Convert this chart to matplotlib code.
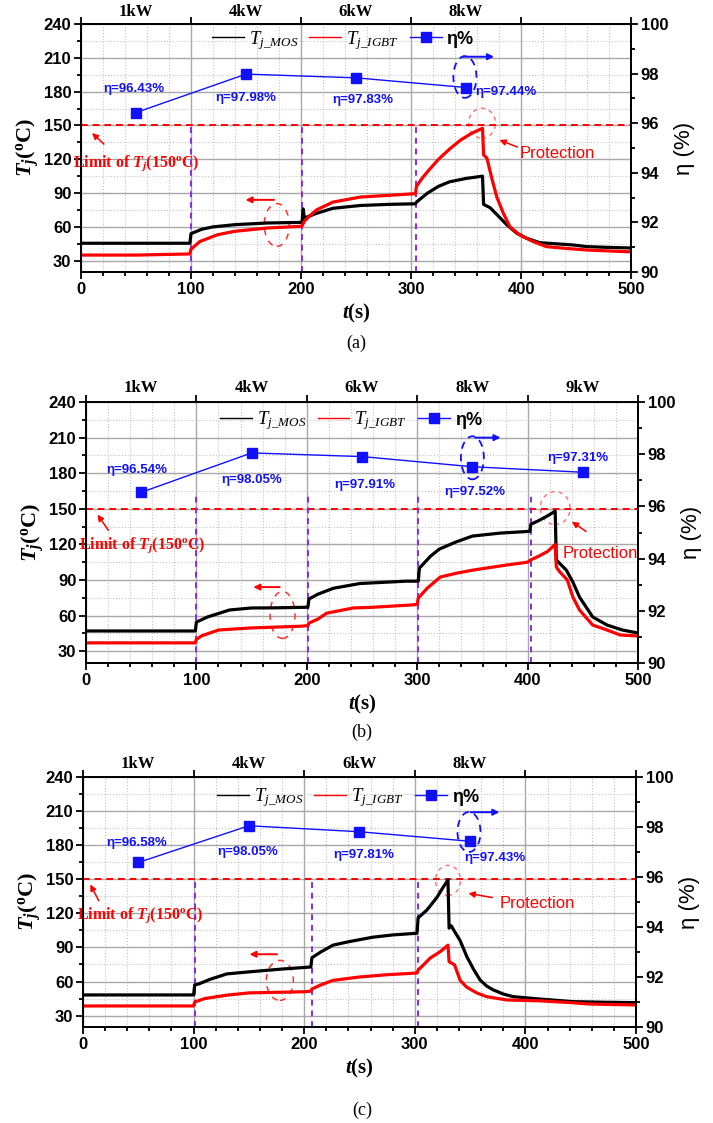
import matplotlib
matplotlib.use('Agg')
import matplotlib.pyplot as plt
from matplotlib.patches import Ellipse
from matplotlib.lines import Line2D
from matplotlib.ticker import MultipleLocator

plt.rcParams['font.family'] = ['Liberation Sans Narrow', 'Liberation Sans', 'DejaVu Sans']
plt.rcParams['font.weight'] = 'bold'
plt.rcParams['mathtext.fontset'] = 'custom'
plt.rcParams['mathtext.rm'] = 'Liberation Serif:bold'
plt.rcParams['mathtext.it'] = 'Liberation Serif:italic:bold'
plt.rcParams['mathtext.bf'] = 'Liberation Serif:bold'
plt.rcParams['mathtext.sf'] = 'Liberation Serif:style=italic:weight=normal'

# load steps (segment centres) and measured efficiency
power_t = [50, 150, 250, 350, 450]
a_power = ['1kW', '4kW', '6kW', '8kW']
b_power = ['1kW', '4kW', '6kW', '8kW', '9kW']
c_power = ['1kW', '4kW', '6kW', '8kW']
a_eff = [96.43, 97.98, 97.83, 97.44]
b_eff = [96.54, 98.05, 97.91, 97.52, 97.31]
c_eff = [96.58, 98.05, 97.81, 97.43]
a_steps = [100, 201, 304.5]
b_steps = [99.6, 201, 300.7, 403]
c_steps = [101, 207, 303]

# (a) junction temperatures
a_t_mos = [0, 99, 100, 105, 110, 120, 140, 170, 200, 201, 202, 203, 206, 214, 229, 254, 280, 304,
           305, 315, 325, 335, 350, 365, 366, 372, 381, 387, 396, 405, 417, 447, 460, 480, 500]
a_mos = [45.5, 45.5, 54, 56, 58, 60, 62, 63.5, 64, 64, 76, 68, 69, 72, 76.5, 79, 80, 80.5,
         82, 90, 96, 100, 103, 105, 80, 77, 68, 62, 54.5, 50, 46, 44, 42.5, 41.8, 41.3]
a_t_igbt = [0, 50, 99, 100, 101, 108, 124, 139, 169, 200, 201, 203, 207, 214, 229, 254, 280, 304,
            305, 310, 315, 325, 335, 345, 355, 365, 366, 369, 374, 378, 384, 390, 399, 411, 423,
            440, 460, 496, 500]
a_igbt = [35, 35, 36, 40.5, 41, 47, 53, 56, 59, 60.5, 61, 65, 69, 75, 82, 86.5, 88, 89.5,
          96, 103, 109, 120, 129, 137, 143, 147.5, 124, 121, 101, 86.5, 72, 60, 52.8, 47, 42.5,
          41, 39.5, 38, 38]

# (b) junction temperatures
b_t_mos = [0, 99, 100, 110, 130, 150, 170, 200, 201, 202, 210, 224, 248, 290, 300, 301, 302,
           306, 312, 320, 335, 350, 375, 402, 403, 410, 418, 425, 426, 429, 435, 441, 447, 459,
           472, 486, 500]
b_mos = [47, 47, 54.5, 58.8, 64.7, 66.4, 66.5, 67, 67, 74, 78, 83, 87, 89, 89, 89, 100,
         104, 110, 116, 122, 127, 129.5, 131, 137, 140, 144, 148, 107, 104, 98.4, 88.3, 75.6, 58.8,
         52, 47.8, 45.3]
b_t_igbt = [0, 99, 100, 105, 120, 148, 194, 201, 202, 210, 218, 242, 260, 296, 300, 301, 309,
            321, 336, 351, 381, 400, 403, 410, 418, 425, 426, 429, 436, 441, 447, 459, 472, 484,
            500]
b_igbt = [37, 37, 40, 43, 47.8, 49.5, 51, 51.5, 53.7, 57, 62, 66.4, 67, 69, 69.5, 74.8, 83,
          92.5, 95.8, 98.4, 102.6, 105, 107, 110, 114, 120, 101, 97, 90, 75.6, 64.7, 52, 47.8,
          43.6, 42.8]

# (c) junction temperatures
c_t_mos = [0, 100, 101, 105, 115, 130, 150, 180, 206, 207, 215, 226, 240, 262, 280, 302, 303,
           311, 320, 325, 330, 331, 333, 336, 341, 347, 353, 359, 365, 371, 380, 389, 413, 443,
           470, 500]
c_mos = [48.2, 48.2, 57, 58, 62, 66.7, 68.5, 71, 72.8, 81, 86, 92, 95, 99, 101, 102.5, 116,
         123, 134, 142, 149.5, 107, 109, 104, 96, 82, 71, 61.4, 56, 52.6, 49, 46.7, 44.6, 42.3,
         41.8, 41.4]
c_t_igbt = [0, 100, 101, 110, 130, 150, 200, 206, 207, 215, 226, 250, 275, 302, 303, 314, 323,
            330, 331, 336, 341, 347, 356, 365, 383, 413, 440, 458, 500]
c_igbt = [38.5, 38.5, 42, 45, 48, 50, 51, 51.5, 53.5, 57, 61, 64, 66, 67.5, 70, 80.7, 86.3,
          92, 77.5, 74.6, 61, 55, 50, 46.7, 43.8, 43, 41.5, 40.2, 39.4]

BLUE = '#1010ff'
SERIF = 'Liberation Serif'


def draw(fig, rect, t_mos, mos, t_igbt, igbt, powers, eff, steps, lay):
    ax = fig.add_axes(rect)
    ax.set_xlim(0, 500)
    ax.set_ylim(20, 240)
    ax.xaxis.set_major_locator(MultipleLocator(100))
    ax.xaxis.set_minor_locator(MultipleLocator(20))
    ax.yaxis.set_major_locator(MultipleLocator(30))
    ax.yaxis.set_minor_locator(MultipleLocator(15))
    ax.set_axisbelow(True)
    ax.grid(which='major', color='#a8a8a8', lw=1.0)
    ax.grid(which='minor', color='#c4c4c4', ls=':', lw=0.8)

    ax.axhline(150, color='red', ls=(0, (3.5, 2.5)), lw=1.4)
    ax.vlines(steps, 20, lay['step_top'], colors='#8a2be2', linestyles=(0, (3, 2.5)), lw=1.4)
    ax.plot(t_mos, mos, color='black', lw=2.3)
    ax.plot(t_igbt, igbt, color='red', lw=2.3)

    ax2 = ax.twinx()
    ax2.set_ylim(90, 100)
    ax2.yaxis.set_major_locator(MultipleLocator(2))
    ax2.yaxis.set_minor_locator(MultipleLocator(1))
    ax2.plot(power_t[:len(eff)], eff, color=BLUE, lw=1.0, marker='s', ms=6.5)

    for a in (ax, ax2):
        for s in a.spines.values():
            s.set_linewidth(1.3)
        a.tick_params(which='both', direction='out', width=1.3, labelsize=12, pad=2)
        a.tick_params(which='major', length=5)
        a.tick_params(which='minor', length=3)
    ax.tick_params(axis='x', which='major', top=True)

    ax.set_ylabel(r'$T_j(^{\rm o}{\rm C})$', fontsize=16, labelpad=2)
    ax.set_xlabel(r'$t({\rm s})$', fontsize=15, labelpad=4)
    ax2.set_ylabel('η (%)', fontsize=16, family='Liberation Sans', labelpad=4)

    # load labels above the frame
    for x, p in zip(power_t, powers):
        ax.text(x, lay['power_y'], p, ha='center', va='center', fontsize=12,
                family=SERIF, clip_on=False)

    for (x, y), v in zip(lay['eta_text'], eff):
        ax.text(x, y, 'η={:.2f}%'.format(v), color=BLUE, fontsize=9.5,
                ha='center', va='center')

    ax.text(*lay['limit_text'], r'Limit of $T_j$(150$^{\rm o}$C)', color='red',
            fontsize=11.5, family=SERIF, ha='center', va='center')
    ax.annotate('', xy=lay['limit_arrow'][1], xytext=lay['limit_arrow'][0],
                arrowprops=dict(arrowstyle='-|>', color='red', lw=1.1, mutation_scale=9))
    ax.text(*lay['prot_text'], 'Protection', color='red', fontsize=12,
            fontweight='normal', ha='center', va='center')
    ax.annotate('', xy=lay['prot_arrow'][1], xytext=lay['prot_arrow'][0],
                arrowprops=dict(arrowstyle='-|>', color='red', lw=1.1, mutation_scale=9))

    x, y, w, h = lay['peak_ring']
    ax.add_patch(Ellipse((x, y), w, h, fill=False, ec='#ff7070', lw=1.0, ls=(0, (3, 3))))
    x, y, w, h = lay['left_ring']
    ax.add_patch(Ellipse((x, y), w, h, fill=False, ec='#ff3030', lw=1.1, ls=(0, (4, 4))))
    ax.annotate('', xy=lay['left_arrow'][1], xytext=lay['left_arrow'][0],
                arrowprops=dict(arrowstyle='-|>', color='red', lw=1.4, mutation_scale=9))
    x, y, w, h = lay['eta_ring']
    ax.add_patch(Ellipse((x, y), w, h, fill=False, ec=BLUE, lw=1.3, ls=(0, (4, 3))))
    ax.annotate('', xy=lay['eta_arrow'][1], xytext=lay['eta_arrow'][0],
                arrowprops=dict(arrowstyle='-|>', color=BLUE, lw=1.4, mutation_scale=9))

    # thin legend keys
    keys = [Line2D([], [], color='black', lw=1.0),
            Line2D([], [], color='red', lw=1.0),
            Line2D([], [], color=BLUE, lw=1.0, marker='s', ms=6.5)]
    leg = ax2.legend(keys, [r'$\mathsf{T}_{\mathsf{j\_MOS}}$',
                            r'$\mathsf{T}_{\mathsf{j\_IGBT}}$', 'η%'],
                     loc='center', bbox_to_anchor=lay['legend'], ncol=3, frameon=False,
                     fontsize=13.5, handlelength=1.7, handletextpad=0.25, columnspacing=0.6,
                     borderaxespad=0)
    leg.get_texts()[2].set_family('Liberation Sans')
    leg.get_texts()[2].set_fontsize(13)

    fig.text(lay['tag'][0], lay['tag'][1], lay['tag'][2], ha='center', va='center',
             fontsize=13, family=SERIF, fontweight='normal')
    return ax, ax2


a_lay = dict(eta_text=[(48, 182.4), (150, 174.4), (256, 172.6), (386, 179.7)],
             legend=(0.476, 0.935), limit_text=(50, 116.7),
             limit_arrow=((22.7, 131.8), (8.2, 145)), prot_text=(433, 124.7),
             prot_arrow=((399, 130), (378, 138)), peak_ring=(364.5, 152, 24.5, 26.6),
             left_ring=(178, 61.7, 22.7, 38), left_arrow=((178, 84), (147, 84)),
             eta_ring=(349, 193, 21, 37), eta_arrow=((344.5, 211), (378, 211)),
             step_top=150, power_y=250.5, tag=(0.5, 0.6946, '(a)'))
b_lay = dict(eta_text=[(46, 182.7), (150, 174), (253, 170), (352, 164), (446, 193)],
             legend=(0.48, 0.928), limit_text=(50.6, 119.5),
             limit_arrow=((21.7, 130), (9, 147)), prot_text=(466, 112.7),
             prot_arrow=((455, 129.6), (438, 140.5)), peak_ring=(425, 150.6, 27, 27.8),
             left_ring=(178, 60.5, 22.6, 39.6), left_arrow=((178, 84), (149, 84)),
             eta_ring=(350, 193, 20.8, 36.3), eta_arrow=((350, 210), (378, 210)),
             step_top=162, power_y=251.8, tag=(0.507, 0.348, '(b)'))
c_lay = dict(eta_text=[(49, 182), (149, 174), (254, 171), (372.5, 168.8)],
             legend=(0.479, 0.917), limit_text=(51.5, 118.6),
             limit_arrow=((15.4, 129), (5.4, 147.6)), prot_text=(410.5, 129),
             prot_arrow=((372.5, 133.5), (346, 138)), peak_ring=(330, 149, 22.6, 26.4),
             left_ring=(178, 61, 24.4, 35.2), left_arrow=((178, 84), (148, 84)),
             eta_ring=(349, 191.6, 20.8, 35.2), eta_arrow=((348, 209), (379, 209)),
             step_top=149, power_y=251.4, tag=(0.508, 0.0116, '(c)'))

fig = plt.figure(figsize=(7.13, 11.23), dpi=100)
draw(fig, [0.1136, 0.7578, 0.7714, 0.2208], a_t_mos, a_mos, a_t_igbt, a_igbt,
     a_power, a_eff, a_steps, a_lay)
draw(fig, [0.1206, 0.4096, 0.7742, 0.2324], b_t_mos, b_mos, b_t_igbt, b_igbt,
     b_power, b_eff, b_steps, b_lay)
draw(fig, [0.1164, 0.0855, 0.7756, 0.2226], c_t_mos, c_mos, c_t_igbt, c_igbt,
     c_power, c_eff, c_steps, c_lay)
fig.savefig('out.png', dpi=100)
